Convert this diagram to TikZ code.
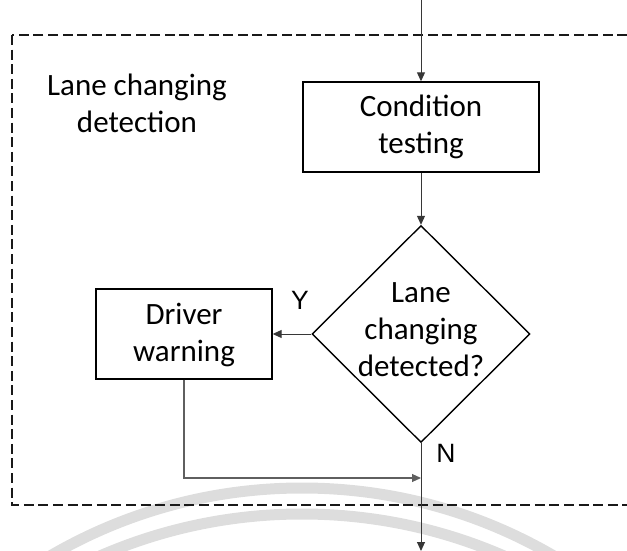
\documentclass[tikz,border=0pt]{standalone}
\usepackage{fontspec}
\setmainfont{Carlito}
\newfontfamily\yesnofont{Liberation Sans}
\usetikzlibrary{arrows.meta,shapes.geometric}

\definecolor{wmark}{RGB}{221,221,221}
\definecolor{wire}{RGB}{55,55,55}
\definecolor{wiresoft}{RGB}{95,95,95}

\tikzset{
  procbox/.style={draw=black, line width=1.4pt, fill=white, rectangle, inner sep=0pt},
  decbox/.style={draw=black, line width=1.4pt, fill=white, diamond, inner sep=0pt},
  bigtext/.style={font=\fontsize{31}{37}\selectfont, align=center, inner sep=0pt},
  yntext/.style={font=\yesnofont\fontsize{26.5}{30}\selectfont, inner sep=0pt},
  flow/.style={draw=wire, line width=1pt, -{Triangle[length=9pt,width=8pt]}},
  backflow/.style={draw=wiresoft, line width=1.1pt, -{Triangle[length=9pt,width=8pt]}},
  region/.style={draw=black!90, line width=1.5pt, dash pattern=on 10pt off 4.6pt},
  watermark/.style={draw=wmark, line width=11pt}
}

\begin{document}
\begin{tikzpicture}[x=1pt, y=-1pt]
  \useasboundingbox (0,0) rectangle (627,551);
  \clip (0,0) rectangle (627,551);

  % faint background arcs
  \draw[watermark] (302,988) circle[radius=500pt];
  \draw[watermark] (302,1020) circle[radius=506pt];

  % dashed region of the detection stage
  \draw[region] (12,35) rectangle (660,505);

  \node[bigtext] (title) at (137,103.5) {Lane changing\\detection};

  % blocks
  \node[procbox, minimum width=236pt, minimum height=90pt] (cond) at (421,127) {};
  \node[bigtext] (condtext) at (cond.center) {Condition\\testing};

  \node[decbox, minimum width=218pt, minimum height=217pt] (dec) at (421,334) {};
  \node[bigtext] (dectext) at (421,330) {Lane\\changing\\detected?};

  \node[procbox, minimum width=176pt, minimum height=90pt] (warn) at (184,334) {};
  \node[bigtext] (warntext) at (184,334.5) {Driver\\warning};

  % branch labels
  \node[yntext] (ylab) at (300,300) {Y};
  \node[yntext] (nlab) at (446,453) {N};

  % connectors
  \coordinate (start) at (421,0);
  \coordinate (merge) at (421,478);
  \coordinate (finish) at (421,551);

  \draw[flow] (start) -- (cond.north);
  \draw[flow] (cond.south) -- (dec.north);
  \draw[flow] (dec.west) -- (warn.east);
  \draw[backflow] (warn.south) |- (merge);
  \draw[flow] (dec.south) -- (finish);
\end{tikzpicture}
\end{document}
